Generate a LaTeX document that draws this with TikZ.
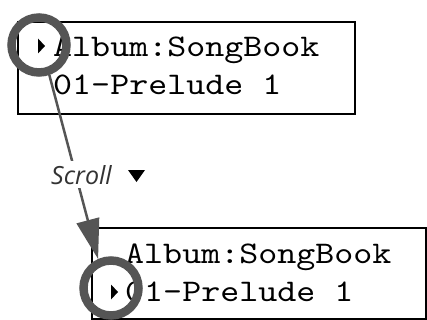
\documentclass[tikz,border=0pt]{standalone}
\usepackage{fontspec}
\newfontfamily\lcdfont{lmmono10-regular.otf}[FakeStretch=1.15]
\newfontfamily\labelfont{Open Sans}
\usetikzlibrary{arrows.meta}
\definecolor{ringgray}{HTML}{555555}
\definecolor{labelgray}{HTML}{333333}
\begin{document}
\begin{tikzpicture}[x={(1pt,0pt)},y={(0pt,-1pt)},
  screenbox/.style={draw=black,line width=2.5pt,inner sep=0pt,fill=white},
  lcdtext/.style={anchor=base west,inner sep=0pt,font=\lcdfont\fontsize{31.5}{38}\selectfont,text=black},
  ring/.style={draw=ringgray,line width=8.5pt,circle,inner sep=0pt,minimum size=55pt},
  pointer/.style={fill=black},
  scrollarrow/.style={draw=ringgray,line width=2.5pt,-{Triangle[length=40pt,width=23pt]}},
  scrolllabel/.style={anchor=base west,fill=white,inner xsep=2pt,inner ysep=4pt,text=labelgray,font=\labelfont\itshape\fontsize{25}{30}\selectfont}]
\useasboundingbox (0,0) rectangle (427,320);
% screens
\node[screenbox,minimum width=337pt,minimum height=92pt] (topbox) at (186.5,68) {};
\node[screenbox,minimum width=334pt,minimum height=91pt] (botbox) at (259,273.5) {};
% texts
\node[lcdtext] (t1) at (53,57) {Album:SongBook};
\node[lcdtext] (t2) at (53,95) {01-Prelude 1};
\node[lcdtext] (b1) at (125,263) {Album:SongBook};
\node[lcdtext] (b2) at (125,301) {01-Prelude 1};
% pointers
\fill[pointer] (38,38.5) -- (45,46) -- (38,53.5) -- cycle;
\fill[pointer] (111,284.5) -- (118,292) -- (111,299.5) -- cycle;
% rings
\node[ring] (topc) at (39,45) {};
\node[ring] (botc) at (111,288) {};
% arrow
\draw[scrollarrow] (topc.-71) -- (botc.114);
\node[scrolllabel] (scroll) at (49,184) {Scroll};
\fill[black] (128,170) -- (145,170) -- (136.5,182) -- cycle;
\end{tikzpicture}
\end{document}
